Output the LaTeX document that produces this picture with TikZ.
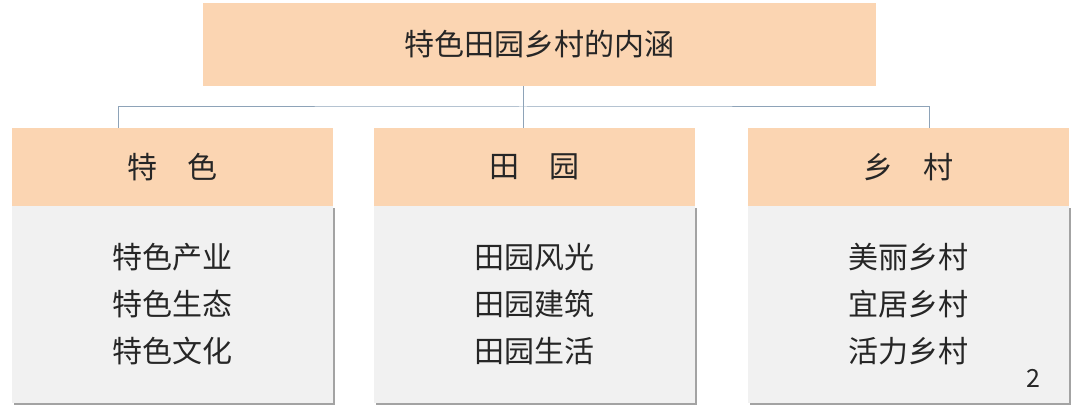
\documentclass[tikz,border=0pt]{standalone}
\usepackage{fontspec}
\setmainfont{Noto Sans CJK SC}
\usetikzlibrary{shadows}
\definecolor{peach}{HTML}{FBD5B2}
\definecolor{boxg}{HTML}{F1F1F1}
\definecolor{linec}{HTML}{8EA3B8}
\begin{document}
\begin{tikzpicture}[x=1pt,y=-1pt,
  hdr/.style={fill=peach,draw=none,font=\fontsize{30}{36}\selectfont,text=black!85},
  body/.style={fill=boxg,draw=none,drop shadow={shadow xshift=2pt,shadow yshift=-2pt,fill=black!45,opacity=0.8},align=center,font=\fontsize{30}{47}\selectfont,text=black!85},
  conn/.style={draw=linec,line width=1pt}]
\useasboundingbox (0,0) rectangle (1080,409);
\node[hdr,minimum width=673,minimum height=83] (top) at (539.5,44.5) {特色田园乡村的内涵};
\foreach \n/\x/\h/\a/\b/\c in {L/172/特\quad 色/特色产业/特色生态/特色文化,M/534/田\quad 园/田园风光/田园建筑/田园生活,R/908/乡\quad 村/美丽乡村/宜居乡村/活力乡村}{
  \node[body,minimum width=321,minimum height=196] (b\n) at (\x,304.5) {\a\\\b\\\c};
  \node[hdr,minimum width=321,minimum height=78] (h\n) at (\x,167) {\h};
}
\coordinate (j) at (523,107);
\draw[conn] (top.south -| j) -- (j);
\draw[conn] (hL.north -| 118,0) |- (j) -| (hR.north -| 929,0);
\draw[conn] (hM.north -| 523,0) -- (j);
\node[font=\fontsize{25}{30}\selectfont,text=black!85] (pg) at (1033,378) {2};
\end{tikzpicture}
\end{document}
